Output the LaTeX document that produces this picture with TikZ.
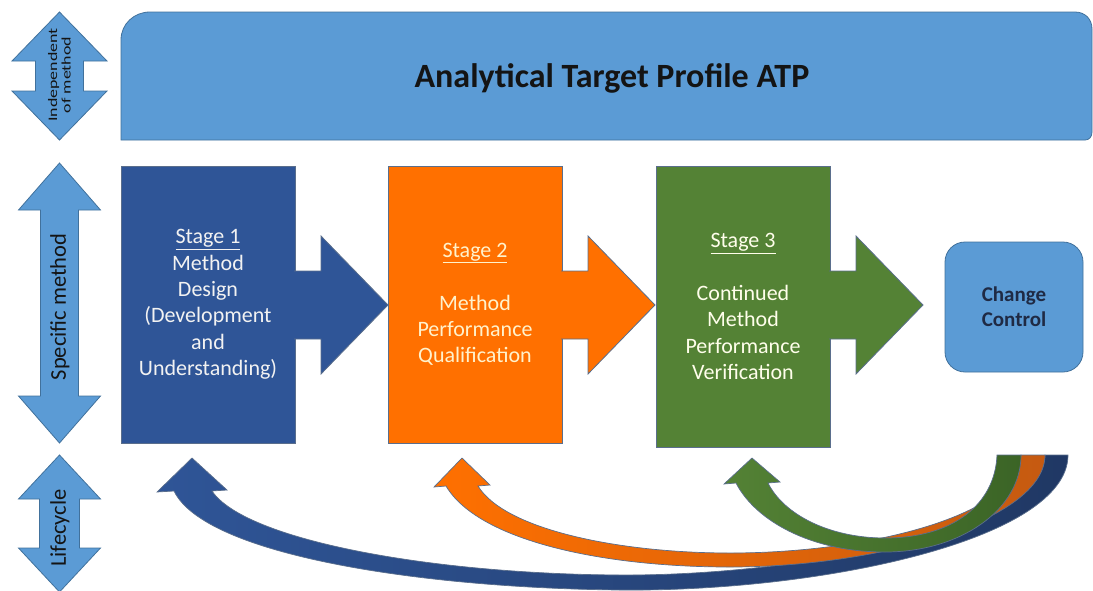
\documentclass[tikz,border=0pt]{standalone}
\usepackage{fontspec}
\setmainfont{Carlito}
\usetikzlibrary{positioning,calc}
\definecolor{atpblue}{HTML}{5B9BD5}
\definecolor{edgeblue}{HTML}{41719C}
\definecolor{stageblue}{HTML}{2F5597}
\definecolor{stageorange}{HTML}{FF7000}
\definecolor{stagegreen}{HTML}{548235}
\definecolor{darkblue}{HTML}{203864}
\definecolor{darkorange}{HTML}{C55A11}
\definecolor{darkgreen}{HTML}{3B6426}
\definecolor{cream}{HTML}{FFF2CC}
\definecolor{inktext}{HTML}{141414}
\definecolor{navytext}{HTML}{1F2A44}
\definecolor{rim}{HTML}{5A6E8C}
\newcommand{\widetext}[1]{\scalebox{1.38}[1]{#1}}
\tikzset{
  stagebox/.style={draw=rim, line width=0.8pt, minimum width=174pt, minimum height=277pt,
    inner sep=0pt, align=center, font=\fontsize{22}{26.4}\selectfont},
  ccbox/.style={draw=edgeblue, fill=atpblue, line width=0.8pt, rounded corners=20pt,
    minimum width=138pt, minimum height=130pt, align=center, text=navytext,
    font=\fontsize{21}{25}\bfseries\selectfont},
  sidetext/.style={rotate=90, align=center, text=inktext, inner sep=0pt},
  bandrim/.style={draw=rim, line width=0.7pt}
}

\begin{document}
\begin{tikzpicture}[x=1pt,y=-1pt]
\useasboundingbox (0,0) rectangle (1093,590);

\filldraw[fill=atpblue, draw=edgeblue, line width=0.8pt] (121,140) -- (121,40) .. controls (121,24) and (134,12) .. (150,12) -- (1075,12) .. controls (1085,12) and (1092,19) .. (1092,29) -- (1092,132) .. controls (1092,137) and (1089,140) .. (1085,140) -- cycle;
\node[font=\fontsize{34}{40}\bfseries\selectfont, text=inktext] (atp) at (612,78) {Analytical Target Profile ATP};

\foreach \yt/\yb/\hw/\sw/\hl in {12/140/47.5/24/49, 163/443/41/19/47, 455/592/41/20/44}
  \filldraw[fill=atpblue, draw=edgeblue, line width=0.8pt] (59.5,\yt) -- (59.5+\hw,\yt+\hl) -- (59.5+\sw,\yt+\hl) -- (59.5+\sw,\yb-\hl) -- (59.5+\hw,\yb-\hl) -- (59.5,\yb) -- (59.5-\hw,\yb-\hl) -- (59.5-\sw,\yb-\hl) -- (59.5-\sw,\yt+\hl) -- (59.5-\hw,\yt+\hl) -- cycle;
\node[sidetext, font=\fontsize{13}{13.5}\selectfont] (ind) at (59.5,75) {\widetext{Independent}\\\widetext{of method}};
\node[sidetext, font=\fontsize{22.5}{26}\selectfont] (spec) at (60,307) {Specific method};
\node[sidetext, font=\fontsize{22.5}{26}\selectfont] (life) at (60,528) {Lifecycle};

\node[stagebox, fill=stageblue, text=white!95!black] (s1) at (208,304.5) {\underline{Stage 1}\\Method\\Design\\(Development\\and\\Understanding)};
\node[stagebox, fill=stageorange, text=cream] (s2) at (475,304.5) {\underline{Stage 2}\\[26.4pt]Method\\Performance\\Qualification};
\node[stagebox, fill=stagegreen, text=white!92!yellow, minimum height=281pt] (s3) at (743,306.5) {\underline{Stage 3}\\[26.4pt]Continued\\Method\\Performance\\Verification};

\foreach \bx/\col in {295/stageblue, 562/stageorange, 830/stagegreen}
  \filldraw[fill=\col, draw=rim, line width=0.8pt] (\bx-1,271) -- (\bx+26,271) -- (\bx+26,236) -- (\bx+93,305) -- (\bx+26,374) -- (\bx+26,339) -- (\bx-1,339);

\node[ccbox] (cc) at (1014,307) {Change\\Control};

\draw[bandrim, left color=stageblue, right color=darkblue] (1068,455) .. controls (1068,540) and (820,592) .. (620,590) .. controls (420,588) and (205,555) .. (174,491) -- (157,492) -- (192,458) -- (227,490) -- (212,491) .. controls (245,540) and (430,574) .. (620,575) .. controls (800,576) and (1040,530) .. (1045,455) -- cycle;
\draw[bandrim, left color=stageorange, right color=darkorange] (1045,455) .. controls (1045,520) and (880,567) .. (730,567) .. controls (600,567) and (478,540) .. (446,486) -- (434,487) -- (462,458) -- (490,485) -- (478,486) .. controls (505,530) and (620,553) .. (730,553) .. controls (870,553) and (1018,515) .. (1021,455) -- cycle;
\draw[bandrim, left color=stagegreen, right color=darkgreen] (1021,455) .. controls (1021,510) and (960,552) .. (885,552) .. controls (810,552) and (755,520) .. (736,483) -- (724,484) -- (752,458) -- (780,482) -- (768,483) .. controls (784,515) and (830,538) .. (885,538) .. controls (952,538) and (995,505) .. (997,455) -- cycle;
\end{tikzpicture}
\end{document}
